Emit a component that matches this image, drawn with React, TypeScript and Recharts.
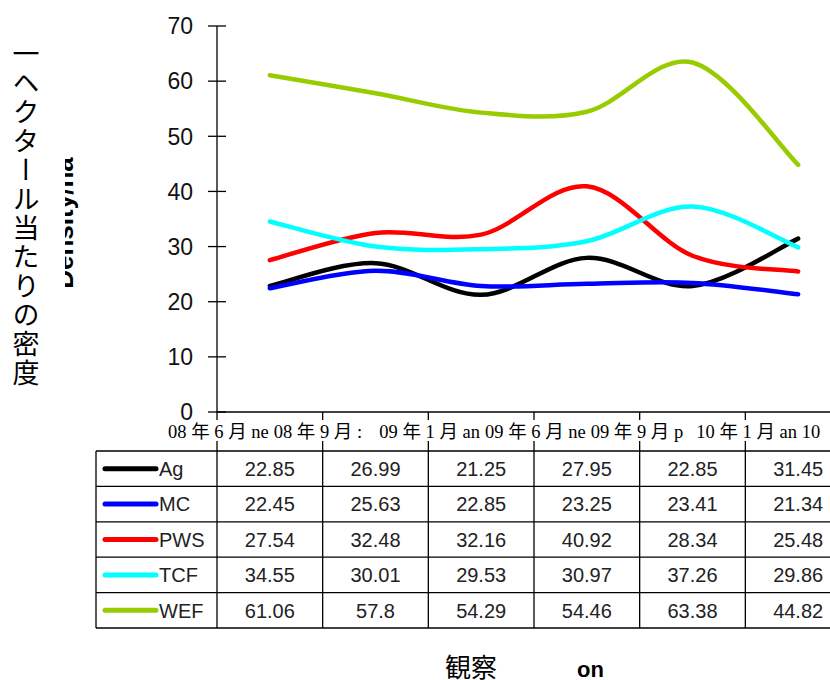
import React from 'react';
import { LineChart, Line, XAxis, YAxis, Customized } from 'recharts';

// ---------- data ----------
const months = ['08 年 6 月', '08 年 9 月', '09 年 1 月', '09 年 6 月', '09 年 9 月', '10 年 1 月'];
const monthTails = ['ne', ':', 'an', 'ne', 'p', 'an 10'];
const Ag = [22.85, 26.99, 21.25, 27.95, 22.85, 31.45];
const MC = [22.45, 25.63, 22.85, 23.25, 23.41, 21.34];
const PWS = [27.54, 32.48, 32.16, 40.92, 28.34, 25.48];
const TCF = [34.55, 30.01, 29.53, 30.97, 37.26, 29.86];
const WEF = [61.06, 57.8, 54.29, 54.46, 63.38, 44.82];
const seriesNames = ['Ag', 'MC', 'PWS', 'TCF', 'WEF'];
const seriesValues = [Ag, MC, PWS, TCF, WEF];
const yTicks = [0, 10, 20, 30, 40, 50, 60, 70];
const yTitle = '一ヘクタール当たりの密度';
const yTitleEn = 'Density/ha';
const xTitle = '観察';
const xTitleEn = 'on';

// ---------- styles / layout ----------
const seriesColors = ['#000000', '#0000ff', '#ff0000', '#00ffff', '#99cc00'];
const CHART_W = 860;
const CHART_H = 680;
const MARGIN = { top: 26, right: 9, left: 0, bottom: 0 };
const Y_AXIS_W = 217;
const X_AXIS_H = 268;
const BAND = (CHART_W - MARGIN.left - MARGIN.right - Y_AXIS_W) / months.length;
const ROW_H = 35.4;
const TABLE_GAP = 39;
const LEGEND_COL_W = 121;
const SANS = "'Liberation Sans', Arial, sans-serif";
const SERIF = "'Liberation Serif', 'Noto Sans CJK JP', serif";
const CJK = "'Noto Sans CJK JP', sans-serif";

const data = months.map((m, i) => {
  const row: any = { month: m };
  seriesNames.forEach((n, s) => {
    row[n] = seriesValues[s][i];
  });
  return row;
});

// Catmull-Rom style smoothing (like Excel smoothed lines)
const smoothCurve = (context: any) => {
  let pts: number[][] = [];
  return {
    areaStart() {},
    areaEnd() {},
    lineStart() {
      pts = [];
    },
    lineEnd() {
      if (!pts.length) return;
      context.moveTo(pts[0][0], pts[0][1]);
      for (let i = 0; i < pts.length - 1; i++) {
        const p0 = pts[i - 1] || pts[i];
        const p1 = pts[i];
        const p2 = pts[i + 1];
        const p3 = pts[i + 2] || p2;
        const c1x = p1[0] + (p2[0] - p0[0]) / 6;
        const c1y = p1[1] + (p2[1] - p0[1]) / 6;
        const c2x = p2[0] - (p3[0] - p1[0]) / 6;
        const c2y = p2[1] - (p3[1] - p1[1]) / 6;
        context.bezierCurveTo(c1x, c1y, c2x, c2y, p2[0], p2[1]);
      }
    },
    point(x: number, y: number) {
      pts.push([+x, +y]);
    },
  };
};

const YTick = (props: any) => {
  const { x, y, payload } = props;
  return (
    <g>
      <line x1={x - 9} x2={x + 9} y1={y} y2={y} stroke="#000" strokeWidth={1.3} />
      <text x={x - 24} y={y} dy="0.36em" textAnchor="end" fontSize={23} fontFamily={SANS} fill="#111">
        {payload.value}
      </text>
    </g>
  );
};

const XTick = (props: any) => {
  const { x, y, index } = props;
  const bx = x - BAND / 2;
  const tableTop = y + TABLE_GAP;
  const tableBottom = tableTop + ROW_H * seriesNames.length;
  const tableRight = bx + BAND * months.length + 20;
  return (
    <g>
      <rect x={bx - 52} y={y + 8} width={BAND} height={24} fill="#fff" />
      <line x1={bx} x2={bx} y1={y} y2={y + 8} stroke="#000" strokeWidth={1.3} />
      <line x1={bx} x2={bx} y1={y + 29} y2={tableBottom} stroke="#000" strokeWidth={1.3} />
      <text x={bx - 49} y={y + 26} fontSize={18.5} fontFamily={SERIF} fill="#000">
        {months[index] + ' ' + monthTails[index]}
      </text>
      {seriesNames.map((n, r) => (
        <text
          key={n}
          x={x}
          y={tableTop + ROW_H * (r + 0.5)}
          dy="0.36em"
          textAnchor="middle"
          fontSize={20}
          fontFamily={SANS}
          fill="#222"
        >
          {String(seriesValues[r][index])}
        </text>
      ))}
      {index === 0 && (
        <g>
          {seriesNames.concat(['']).map((n, r) => (
            <line
              key={'h' + r}
              x1={bx - LEGEND_COL_W}
              x2={tableRight}
              y1={tableTop + ROW_H * r}
              y2={tableTop + ROW_H * r}
              stroke="#000"
              strokeWidth={1.3}
            />
          ))}
          <line
            x1={bx - LEGEND_COL_W}
            x2={bx - LEGEND_COL_W}
            y1={tableTop}
            y2={tableBottom}
            stroke="#000"
            strokeWidth={1.3}
          />
          {seriesNames.map((n, r) => {
            const cy = tableTop + ROW_H * (r + 0.5);
            return (
              <g key={'l' + n}>
                <line
                  x1={bx - LEGEND_COL_W + 9}
                  x2={bx - LEGEND_COL_W + 60}
                  y1={cy}
                  y2={cy}
                  stroke={seriesColors[r]}
                  strokeWidth={5}
                  strokeLinecap="round"
                />
                <text x={bx - LEGEND_COL_W + 63} y={cy} dy="0.36em" fontSize={20} fontFamily={SANS} fill="#222">
                  {n}
                </text>
              </g>
            );
          })}
        </g>
      )}
    </g>
  );
};

const Titles = () => (
  <g>
    <defs>
      <clipPath id="enClip">
        <rect x={65} y={0} width={40} height={CHART_H} />
      </clipPath>
    </defs>
    <text
      x={26}
      y={40}
      fontSize={27}
      letterSpacing={2}
      fontFamily={CJK}
      fill="#000"
      style={{ writingMode: 'vertical-rl' } as any}
    >
      {yTitle}
    </text>
    <g clipPath="url(#enClip)">
      <text
        transform="translate(73,223) rotate(-90)"
        textAnchor="middle"
        fontSize={26}
        fontWeight="bold"
        fontFamily={SANS}
        fill="#000"
      >
        {yTitleEn}
      </text>
    </g>
    <text x={445} y={677} fontSize={26} fontFamily={CJK} fill="#000">
      {xTitle}
    </text>
    <text x={577} y={677} fontSize={22} fontWeight="bold" fontFamily={SANS} fill="#000">
      {xTitleEn}
    </text>
  </g>
);

export default function App() {
  return (
    <div
      style={{
        position: 'absolute',
        left: 0,
        top: 0,
        width: 830,
        height: 680,
        overflow: 'hidden',
        background: '#fff',
      }}
    >
      <LineChart width={CHART_W} height={CHART_H} data={data} margin={MARGIN}>
        <YAxis
          width={Y_AXIS_W}
          domain={[0, 70]}
          ticks={yTicks}
          interval={0}
          tickLine={false}
          tickSize={0}
          tickMargin={0}
          axisLine={{ stroke: '#000', strokeWidth: 1.3 }}
          tick={<YTick />}
        />
        <XAxis
          dataKey="month"
          height={X_AXIS_H}
          interval={0}
          padding={{ left: BAND / 2, right: BAND / 2 }}
          tickLine={false}
          tickSize={0}
          tickMargin={0}
          axisLine={{ stroke: '#000', strokeWidth: 1.3 }}
          tick={<XTick />}
        />
        {seriesNames.map((n, s) => (
          <Line
            key={n}
            dataKey={n}
            type={smoothCurve as any}
            stroke={seriesColors[s]}
            strokeWidth={4.5}
            strokeLinecap="round"
            dot={false}
            activeDot={false}
            isAnimationActive={false}
          />
        ))}
        <Customized component={Titles} />
      </LineChart>
    </div>
  );
}
